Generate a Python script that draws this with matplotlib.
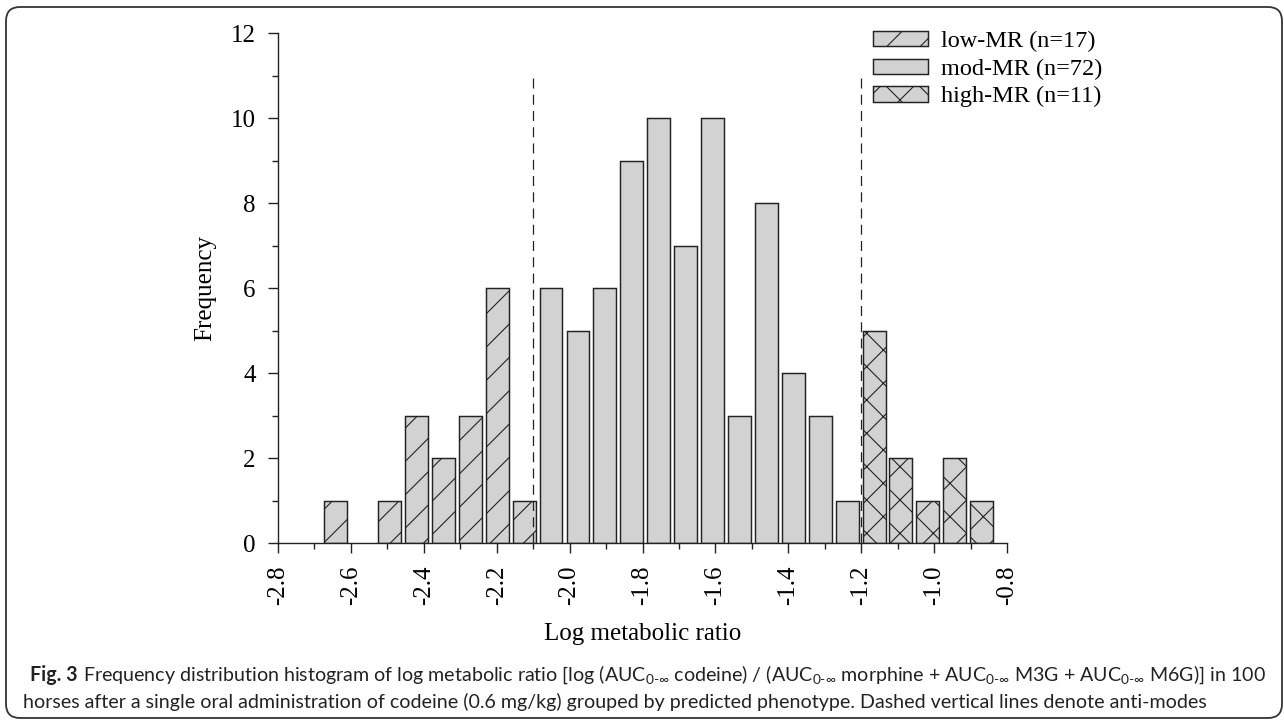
import matplotlib
matplotlib.use("Agg")
import matplotlib.pyplot as plt
import matplotlib.patches as mpatches
from matplotlib.ticker import MultipleLocator

# ---- data ----
low_x = [-2.642, -2.494, -2.420, -2.347, -2.273, -2.199, -2.125]
low_counts = [1, 1, 3, 2, 3, 6, 1]
mod_x = [-2.051, -1.977, -1.903, -1.829, -1.756, -1.682, -1.608, -1.534,
         -1.460, -1.386, -1.312, -1.238]
mod_counts = [6, 5, 6, 9, 10, 7, 10, 3, 8, 4, 3, 1]
high_x = [-1.164, -1.091, -1.017, -0.943, -0.869]
high_counts = [5, 2, 1, 2, 1]
antimodes = [-2.1, -1.2]
antimode_top = 11
labels = ["low-MR (n=17)", "mod-MR (n=72)", "high-MR (n=11)"]
xticks = [-2.8, -2.6, -2.4, -2.2, -2.0, -1.8, -1.6, -1.4, -1.2, -1.0, -0.8]
xticklabels = ["-2.8", "-2.6", "-2.4", "-2.2", "-2.0", "-1.8", "-1.6", "-1.4", "-1.2", "-1.0", "-0.8"]
yticks = [0, 2, 4, 6, 8, 10, 12]

caption_bold = "Fig. 3"
caption_line1 = (" Frequency distribution histogram of log metabolic ratio [log (AUC$_{0\\text{-}\\infty}$ codeine) / "
                 "(AUC$_{0\\text{-}\\infty}$ morphine + AUC$_{0\\text{-}\\infty}$ M3G + AUC$_{0\\text{-}\\infty}$ M6G)] in 100")
caption_line2 = ("horses after a single oral administration of codeine (0.6 mg/kg) grouped by predicted phenotype. "
                 "Dashed vertical lines denote anti-modes")

# ---- style ----
plt.rcParams['font.family'] = ['Liberation Serif', 'DejaVu Serif']
plt.rcParams['mathtext.fontset'] = 'custom'
plt.rcParams['mathtext.rm'] = 'Lato'
plt.rcParams['mathtext.it'] = 'Lato:italic'
plt.rcParams['mathtext.bf'] = 'Lato:bold'
plt.rcParams['hatch.linewidth'] = 0.8
plt.rcParams['hatch.color'] = '#222222'

W, H, DPI = 12.84, 7.2, 100
fig = plt.figure(figsize=(W, H), dpi=DPI)
ax = fig.add_axes([278 / 1284, 1 - 543.3 / 720, 729 / 1284, 510.3 / 720])

fill = '#d2d2d2'
edge = '#222222'
bw = 0.063
ax.bar(low_x, low_counts, width=bw, color=fill, edgecolor=edge, linewidth=1.05,
       hatch='/', label=labels[0], zorder=2)
ax.bar(mod_x, mod_counts, width=bw, color=fill, edgecolor=edge, linewidth=1.05,
       label=labels[1], zorder=2)
ax.bar(high_x, high_counts, width=bw, color=fill, edgecolor=edge, linewidth=1.05,
       hatch='x', label=labels[2], zorder=2)

for xv in antimodes:
    ax.plot([xv, xv], [0, antimode_top], color=edge, linewidth=0.9,
            linestyle=(0, (8, 5)), zorder=3)

ax.set_xlim(-2.8, -0.8)
ax.set_ylim(0, 12)
ax.set_xticks(xticks)
ax.set_xticklabels(xticklabels, rotation=90, fontsize=18)
ax.set_yticks(yticks)
ax.set_yticklabels([str(v) for v in yticks], fontsize=18)
ax.xaxis.set_minor_locator(MultipleLocator(0.1))
ax.yaxis.set_minor_locator(MultipleLocator(1))
ax.tick_params(which='major', direction='out', length=7, width=1.0, color='#222222', pad=9)
ax.tick_params(which='minor', direction='out', length=4.5, width=1.0, color='#222222')
ax.tick_params(axis='x', which='major', pad=9)
for s in ['top', 'right']:
    ax.spines[s].set_visible(False)
for s in ['left', 'bottom']:
    ax.spines[s].set_linewidth(1.0)
    ax.spines[s].set_color('#222222')
ax.spines['bottom'].set_bounds(-2.8, -0.8)

ax.set_xlabel("Log metabolic ratio", fontsize=18, va='center')
ax.xaxis.set_label_coords(0.5, (543.3 - 634) / 510.3)
ax.set_ylabel("Frequency", fontsize=18, va='center')
ax.yaxis.set_label_coords((205 - 278) / 729, 0.5)

leg = fig.legend(loc='upper left', bbox_to_anchor=(873 / 1284, 1 - 31 / 720),
                 frameon=False, fontsize=17.5, handlelength=2.25, handleheight=0.6,
                 handletextpad=0.55, labelspacing=0.26, borderpad=0, borderaxespad=0)

# ---- frame ----
frame = mpatches.FancyBboxPatch((6, 2), 1276, 711,
                                boxstyle='round,pad=0,rounding_size=14',
                                transform=None, facecolor='none',
                                edgecolor='#333333', linewidth=1.3)
fig.add_artist(frame)

# ---- caption ----
cap_font = ['Lato', 'DejaVu Sans']
cap_size = 14.1
t1 = fig.text(30 / 1284, 1 - 681 / 720, caption_bold, family=cap_font, weight='bold',
              fontsize=cap_size, va='baseline', ha='left', color='#222222')
fig.canvas.draw()
r = fig.canvas.get_renderer()
bb = t1.get_window_extent(r)
t2 = fig.text(bb.x1 / 1284, 1 - 681 / 720, caption_line1, family=cap_font,
              fontsize=cap_size, va='baseline', ha='left', color='#222222')
t3 = fig.text(23 / 1284, 1 - 708 / 720, caption_line2, family=cap_font,
              fontsize=cap_size, va='baseline', ha='left', color='#222222')

fig.savefig("out.png", dpi=DPI)
